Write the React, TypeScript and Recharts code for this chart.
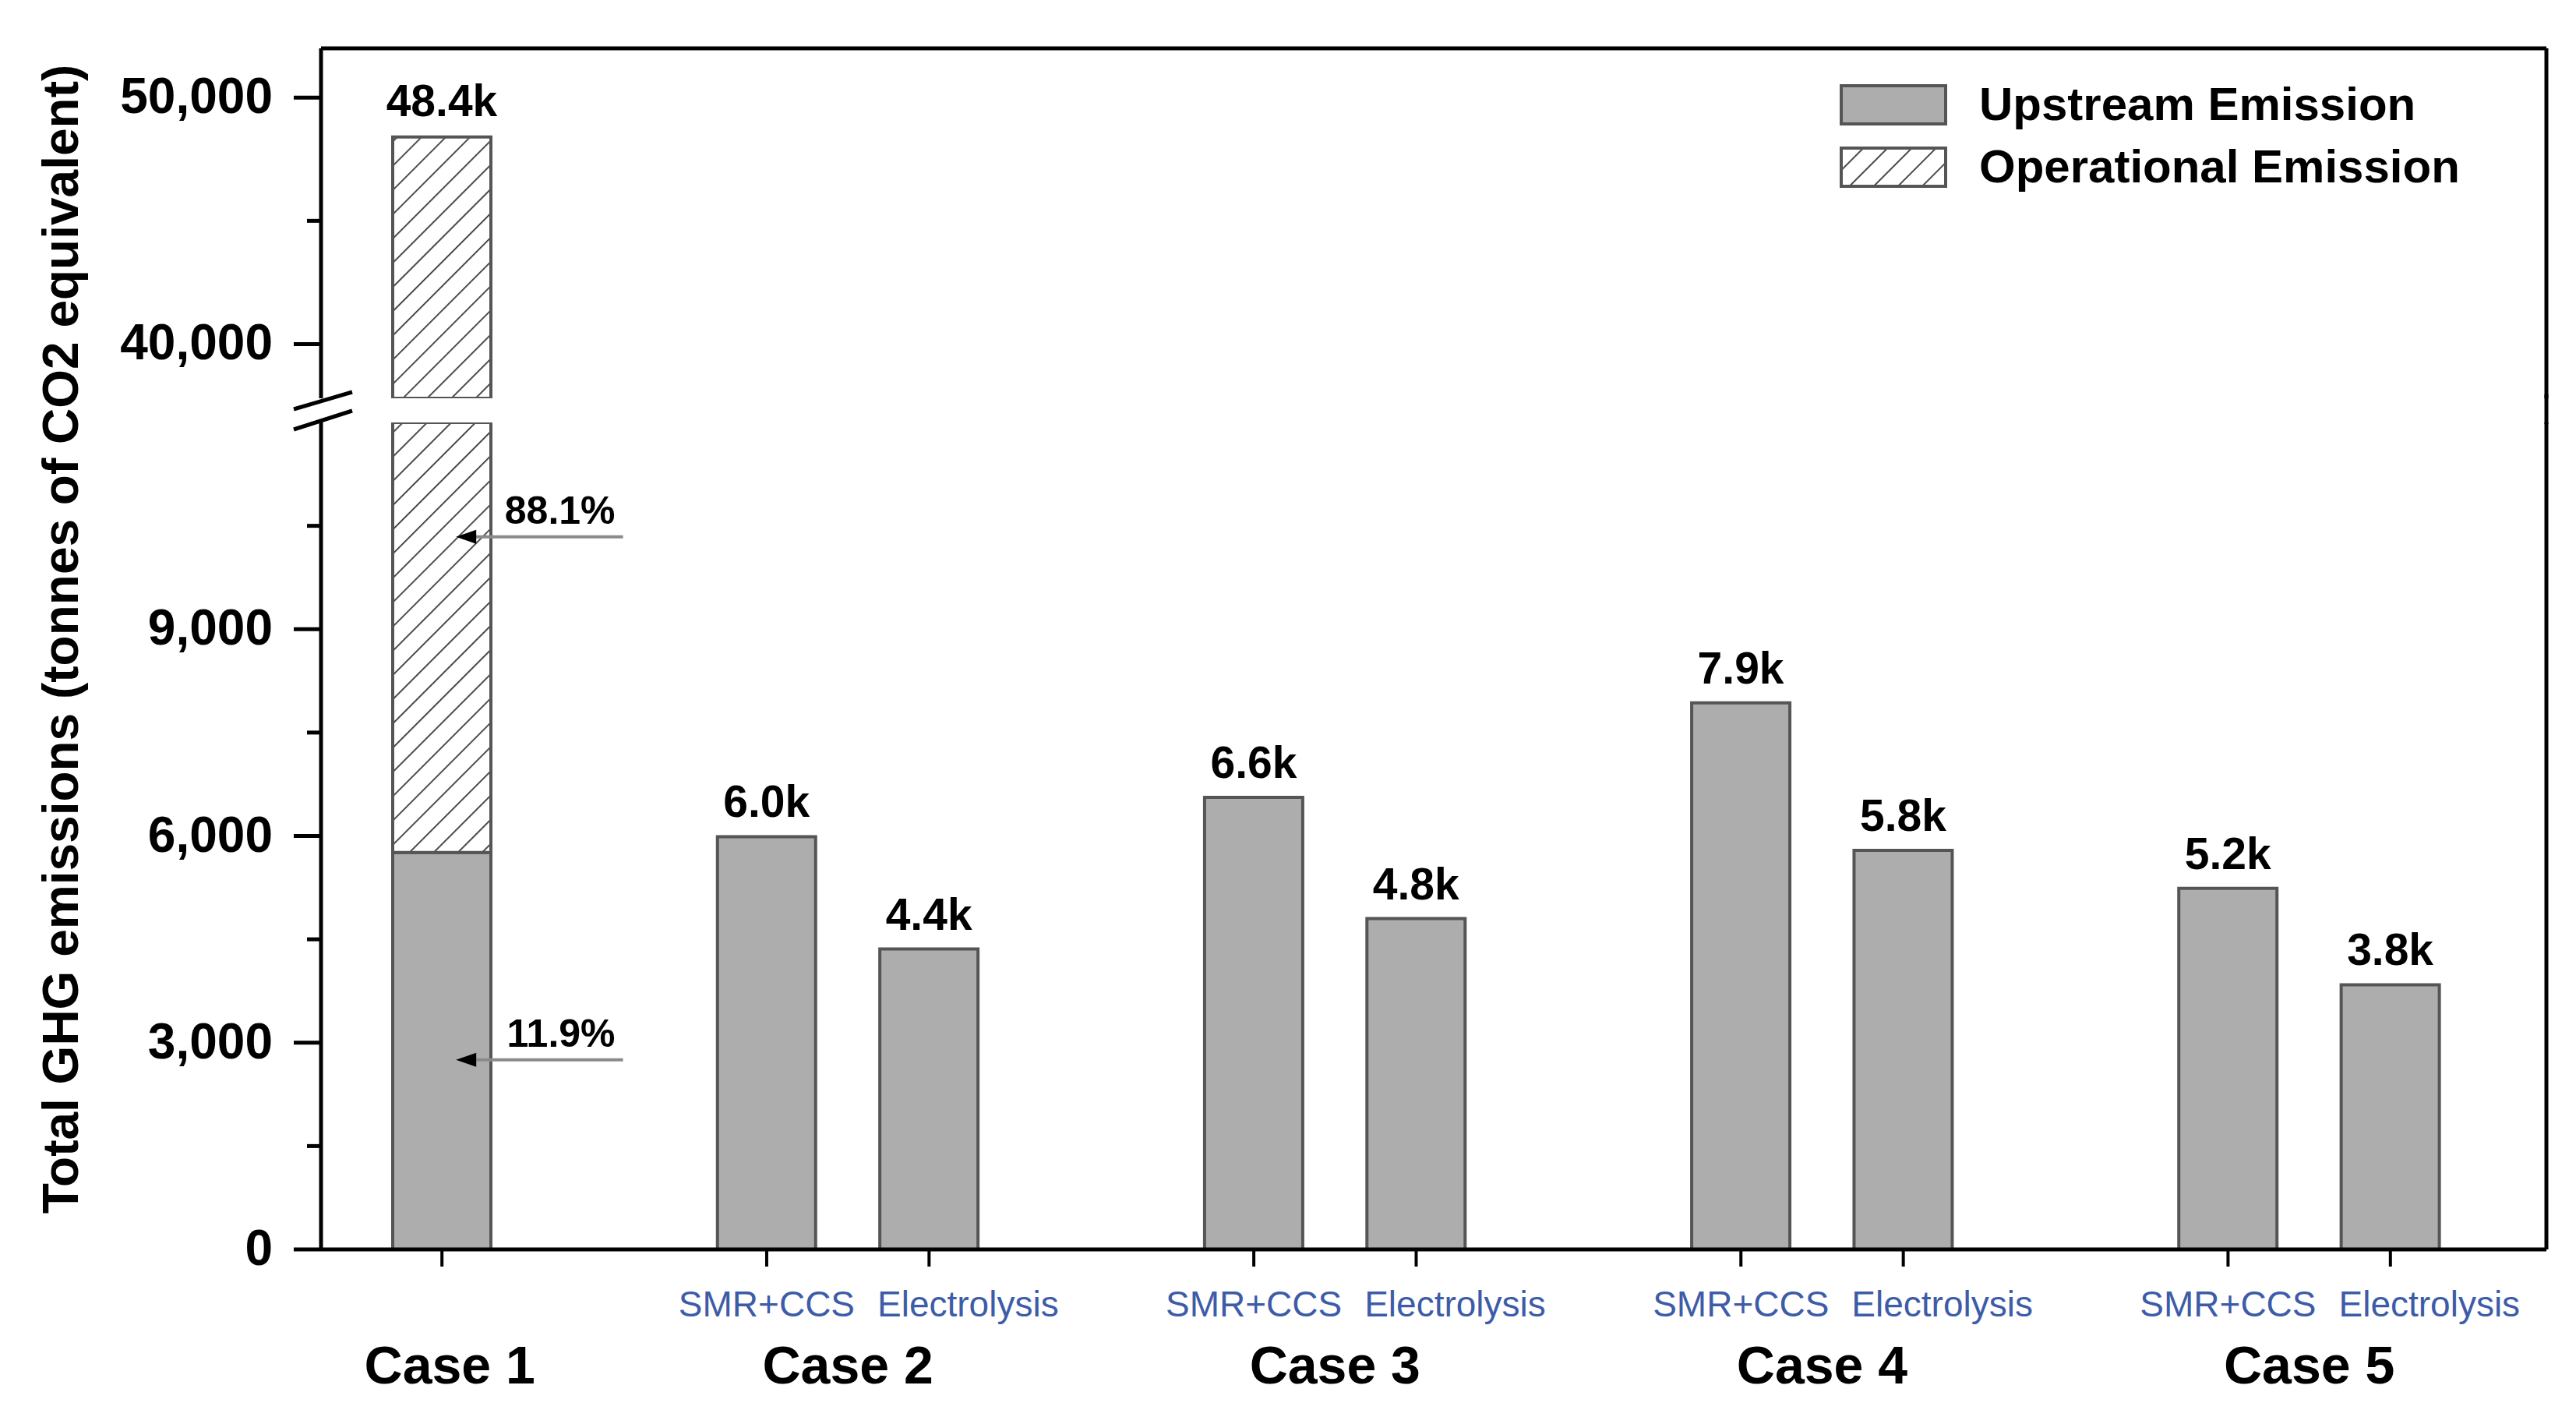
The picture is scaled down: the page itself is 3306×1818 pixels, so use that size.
import { BarChart, Bar, XAxis, YAxis, LabelList, Legend, ReferenceLine } from "recharts";

const FONT = "'Liberation Sans', Arial, Helvetica, sans-serif";

const slots = [
  "Case 1", "gap-1",
  "Case 2 SMR+CCS", "Case 2 Electrolysis", "gap-2",
  "Case 3 SMR+CCS", "Case 3 Electrolysis", "gap-3",
  "Case 4 SMR+CCS", "Case 4 Electrolysis", "gap-4",
  "Case 5 SMR+CCS", "Case 5 Electrolysis",
];
const techLabels = ["", "", "SMR+CCS", "Electrolysis", "", "SMR+CCS", "Electrolysis", "", "SMR+CCS", "Electrolysis", "", "SMR+CCS", "Electrolysis"];
const caseLabels = ["Case 1", "", "Case 2", "", "", "Case 3", "", "", "Case 4", "", "", "Case 5", ""];
const upstream = [5760, null, 5990, 4360, null, 6560, 4800, null, 7930, 5790, null, 5240, 3840];
const operational = [42640, null, null, null, null, null, null, null, null, null, null, null, null];
const valueLabels = ["48.4k", "", "6.0k", "4.4k", "", "6.6k", "4.8k", "", "7.9k", "5.8k", "", "5.2k", "3.8k"];

const lowerTicks = [0, 1500, 3000, 4500, 6000, 7500, 9000, 10500, 12000];
const lowerMajors = [0, 3000, 6000, 9000];
const upperTicks = [37800, 40000, 45000, 50000];
const upperMajors = [40000, 50000];
const LOWER_DOMAIN = [0, 12000];
const UPPER_DOMAIN = [37800, 52000];

const total = (upstream[0] ?? 0) + (operational[0] ?? 0);
const opShare = (((operational[0] ?? 0) / total) * 100).toFixed(1) + "%";
const upShare = (((upstream[0] ?? 0) / total) * 100).toFixed(1) + "%";
const annotations = [
  { y: 10340, text: opShare },
  { y: 2750, text: upShare },
];

const rows = slots.map((slot, i) => ({
  slot,
  upstream: upstream[i],
  operational: operational[i],
  lowLabel: i === 0 ? "" : valueLabels[i],
  topLabel: i === 0 ? valueLabels[0] : "",
}));

const BAR_FILL = "#adadad";
const BAR_STROKE = "#555";
const BLUE = "#3d5ca8";
const PAD = { left: 51, right: 96 };
const BAND = (3268 - 412 - PAD.left - PAD.right) / slots.length;
const MARGIN_LR = { left: 212, right: 30 };

function Hatch({ id }: { id: string }) {
  return (
    <defs>
      <pattern id={id} width={22} height={22} patternUnits="userSpaceOnUse" patternTransform="rotate(45)">
        <rect width={22} height={22} fill="#fff" />
        <line x1={0} y1={0} x2={0} y2={22} stroke="#333" strokeWidth={3.5} />
      </pattern>
    </defs>
  );
}

const makeLeftTick = (majors: number[], breakValue: number, slash: number[]) => (props: any) => {
  const { x, y, payload } = props;
  const v = payload.value;
  if (v === breakValue) {
    return (
      <line x1={x + slash[0]} y1={y + slash[1]} x2={x + slash[2]} y2={y + slash[3]} stroke="#000" strokeWidth={5} />
    );
  }
  const major = majors.includes(v);
  return (
    <g>
      <line x1={x - (major ? 35 : 18)} y1={y} x2={x} y2={y} stroke="#000" strokeWidth={5} />
      {major && (
        <text x={x - 62} y={y + 20} textAnchor="end" fontFamily={FONT} fontWeight={700} fontSize={64} fill="#000">
          {v.toLocaleString("en-US")}
        </text>
      )}
    </g>
  );
};

// closes the right frame line across the axis break
const rightBreakTick = (props: any) => {
  const { x, y } = props;
  return <line x1={x} y1={y + 2} x2={x} y2={y - 36} stroke="#000" strokeWidth={5} />;
};

const renderXTick = (props: any) => {
  const { x, y, payload } = props;
  const i = slots.indexOf(payload.value);
  if (i < 0 || upstream[i] == null) return <g />;
  const tech = techLabels[i];
  const caseX = tech === "SMR+CCS" ? x + BAND / 2 : x + 10;
  return (
    <g>
      <line x1={x} y1={y} x2={x} y2={y + 22} stroke="#000" strokeWidth={4} />
      {tech && (
        <text x={tech === "Electrolysis" ? x + 50 : x} y={y + 86} textAnchor="middle" fontFamily={FONT} fontSize={46} fill={BLUE}>
          {tech}
        </text>
      )}
      {caseLabels[i] && (
        <text x={caseX} y={y + 172} textAnchor="middle" fontFamily={FONT} fontWeight={700} fontSize={68} fill="#000">
          {caseLabels[i]}
        </text>
      )}
    </g>
  );
};

const makeArrow = (text: string) => (props: any) => {
  const { x1, y1, x2 } = props;
  const tip = x1 + 18;
  const end = x2 + 24;
  return (
    <g>
      <line x1={tip + 20} y1={y1} x2={end} y2={y1} stroke="#8a8a8a" strokeWidth={4} />
      <polygon points={`${tip},${y1} ${tip + 26},${y1 - 9} ${tip + 26},${y1 + 9}`} fill="#000" />
      <text x={end - 10} y={y1 - 17} textAnchor="end" fontFamily={FONT} fontWeight={700} fontSize={50} fill="#000">
        {text}
      </text>
    </g>
  );
};

const legendItems = [
  { name: "Upstream Emission", hatch: false },
  { name: "Operational Emission", hatch: true },
];

const renderLegend = () => (
  <div style={{ fontFamily: FONT, fontWeight: 700, fontSize: 60, color: "#000", lineHeight: 1 }}>
    {legendItems.map((item) => (
      <div key={item.name} style={{ display: "flex", alignItems: "center", height: 80 }}>
        <svg width={138} height={53} style={{ marginRight: 41 }}>
          {item.hatch && <Hatch id="hatch-legend" />}
          <rect x={2} y={2} width={134} height={49} fill={item.hatch ? "url(#hatch-legend)" : BAR_FILL} stroke={BAR_STROKE} strokeWidth={4} />
        </svg>
        <span>{item.name}</span>
      </div>
    ))}
  </div>
);

const yTitle = () => (
  <text
    x={78}
    y={820}
    transform="rotate(-90 78 820)"
    textAnchor="middle"
    dominantBaseline="central"
    fontFamily={FONT}
    fontWeight={700}
    fontSize={64}
    fill="#000"
  >
    Total GHG emissions (tonnes of CO2 equivalent)
  </text>
);

export default function App() {
  return (
    <div style={{ position: "absolute", left: 0, top: 0, width: 3306, height: 1818, background: "#fff" }}>
      <div style={{ position: "absolute", left: 0, top: 0 }}>
        <BarChart width={3306} height={560} data={rows} margin={{ top: 60, bottom: 49, ...MARGIN_LR }}>
          <Hatch id="hatch-up" />
          <XAxis dataKey="slot" orientation="top" height={2} tick={false} tickLine={false} padding={PAD} axisLine={{ stroke: "#000", strokeWidth: 5 }} />
          <YAxis
            width={200}
            domain={UPPER_DOMAIN}
            allowDataOverflow
            ticks={upperTicks}
            interval={0}
            tickSize={0}
            tickMargin={0}
            tickLine={false}
            axisLine={{ stroke: "#000", strokeWidth: 5 }}
            tick={makeLeftTick(upperMajors, 37800, [-35, 14, 40, -8])}
          />
          <YAxis yAxisId="r" orientation="right" width={8} domain={UPPER_DOMAIN} allowDataOverflow tick={false} tickLine={false} axisLine={{ stroke: "#000", strokeWidth: 5 }} />
          <Bar dataKey="upstream" name="Upstream Emission" stackId="a" barSize={126} fill={BAR_FILL} stroke={BAR_STROKE} strokeWidth={4} isAnimationActive={false} />
          <Bar dataKey="operational" name="Operational Emission" stackId="a" barSize={126} fill="url(#hatch-up)" stroke={BAR_STROKE} strokeWidth={4} isAnimationActive={false}>
            <LabelList dataKey="topLabel" position="top" offset={27} fill="#000" fontFamily={FONT} fontWeight={700} fontSize={57} />
          </Bar>
          <Legend
            layout="vertical"
            align="center"
            verticalAlign="middle"
            content={renderLegend}
            wrapperStyle={{ left: 2361, top: 94, width: "auto", height: "auto" }}
          />
        </BarChart>
      </div>
      <div style={{ position: "absolute", left: 0, top: 0 }}>
        <BarChart width={3306} height={1818} data={rows} margin={{ top: 542, bottom: 0, ...MARGIN_LR }}>
          <Hatch id="hatch-low" />
          <XAxis
            dataKey="slot"
            height={215}
            interval={0}
            padding={PAD}
            tickSize={0}
            tickMargin={0}
            tickLine={false}
            axisLine={{ stroke: "#000", strokeWidth: 5 }}
            tick={renderXTick}
          />
          <YAxis
            width={200}
            domain={LOWER_DOMAIN}
            allowDataOverflow
            ticks={lowerTicks}
            interval={0}
            tickSize={0}
            tickMargin={0}
            tickLine={false}
            axisLine={{ stroke: "#000", strokeWidth: 5 }}
            tick={makeLeftTick(lowerMajors, 12000, [-35, 9, 40, -15])}
            label={{ content: yTitle }}
          />
          <YAxis
            yAxisId="r"
            orientation="right"
            width={8}
            domain={LOWER_DOMAIN}
            allowDataOverflow
            ticks={[12000]}
            interval={0}
            tickSize={0}
            tickMargin={0}
            tickLine={false}
            axisLine={{ stroke: "#000", strokeWidth: 5 }}
            tick={rightBreakTick}
          />
          <Bar dataKey="upstream" stackId="a" barSize={126} fill={BAR_FILL} stroke={BAR_STROKE} strokeWidth={4} isAnimationActive={false}>
            <LabelList dataKey="lowLabel" position="top" offset={25} fill="#000" fontFamily={FONT} fontWeight={700} fontSize={57} />
          </Bar>
          <Bar dataKey="operational" stackId="a" barSize={126} fill="url(#hatch-low)" stroke={BAR_STROKE} strokeWidth={4} isAnimationActive={false} />
          {annotations.map((a) => (
            <ReferenceLine
              key={a.text}
              segment={[{ x: slots[0], y: a.y }, { x: slots[1], y: a.y }]}
              shape={makeArrow(a.text)}
            />
          ))}
        </BarChart>
      </div>
    </div>
  );
}
